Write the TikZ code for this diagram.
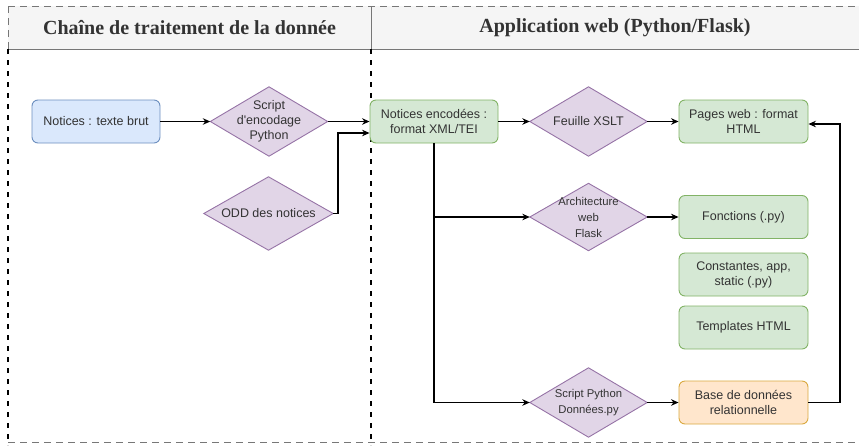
\documentclass[tikz,border=0pt]{standalone}
\usepackage{fontspec}
\setmainfont{Liberation Sans}
\newfontfamily\titlefont{Liberation Serif}
\usetikzlibrary{arrows.meta,calc}
\pgfdeclarelayer{background}
\pgfsetlayers{background,main}
\definecolor{txt}{HTML}{333333}
\definecolor{bluef}{HTML}{DAE8FC}\definecolor{blued}{HTML}{6C8EBF}
\definecolor{greenf}{HTML}{D5E8D4}\definecolor{greend}{HTML}{82B366}
\definecolor{purpf}{HTML}{E1D5E7}\definecolor{purpd}{HTML}{9673A6}
\definecolor{orf}{HTML}{FFE6CC}\definecolor{ord}{HTML}{D9A93F}
\definecolor{hdrf}{HTML}{F5F5F5}\definecolor{hdrd}{HTML}{777777}
\tikzset{
  box/.style={draw, line width=0.9pt, rounded corners=6pt, minimum width=128pt, minimum height=43pt,
    inner sep=2pt, align=center, text=txt, font=\fontsize{12.5}{15}\selectfont},
  bluebox/.style={box, fill=bluef, draw=blued},
  greenbox/.style={box, fill=greenf, draw=greend},
  orbox/.style={box, fill=orf, draw=ord},
  dia/.style={minimum width=117pt, minimum height=69pt, inner sep=0pt, align=center, text=txt,
    font=\fontsize{12.5}{15}\selectfont},
  diasmall/.style={dia, font=\fontsize{11.3}{16}\selectfont},
  diashape/.style={fill=purpf, draw=purpd, line width=0.9pt, line join=miter},
  conn/.style={line width=1.2pt, -{Stealth[length=7.5pt,width=6.5pt]}},
  lane/.style={line width=1.8pt, dash pattern=on 5pt off 6pt},
  frame/.style={draw=hdrd, line width=0.8pt, dash pattern=on 6.5pt off 5.5pt},
  title/.style={font=\titlefont\bfseries\fontsize{20}{23}\selectfont, text=txt}
}
\begin{document}
\begin{tikzpicture}[x=1pt,y=-1pt]
\useasboundingbox (0,0) rectangle (859,445);
% header
\fill[hdrf] (8,6) rectangle (859,49);
\draw[frame] (8,6) -- (859,6);
\draw[frame] (8,6) -- (8,49);
\draw[draw=hdrd, line width=0.9pt] (8,49) -- (859,49);
\draw[draw=hdrd, line width=0.9pt] (371,6) -- (371,49);
\node[title] (t1) at (189.5,28) {Chaîne de traitement de la donnée};
\node[title] (t2) at (615,28) {Application web (Python/Flask)};
% lanes
\draw[lane] (8,49) -- (8,445);
\draw[lane] (371,49) -- (371,445);
\draw[frame] (8,442) -- (859,442);
% nodes
\node[bluebox] (tb) at (96,121.5) {Notices : texte brut};
\node[dia] (s1) at (269,121.5) {Script\\d\textquotesingle encodage\\Python};
\node[dia, minimum width=129pt, minimum height=73pt] (odd) at (268.5,213.5) {ODD des notices};
\node[greenbox] (ne) at (434,121.5) {Notices encodées :\\format XML/TEI};
\node[dia] (xslt) at (588.5,121.5) {Feuille XSLT};
\node[greenbox, minimum width=129pt] (pw) at (743.5,121.5) {Pages web : format\\HTML};
\node[diasmall, minimum height=67pt] (arch) at (588.5,217) {Architecture\\web\\Flask};
\node[greenbox, minimum width=129pt] (fct) at (743.5,217) {Fonctions (.py)};
\node[greenbox, minimum width=129pt] (cst) at (743.5,274.5) {Constantes, app,\\static (.py)};
\node[greenbox, minimum width=129pt] (tpl) at (743.5,327.5) {Templates HTML};
\node[diasmall] (sp) at (588.5,402.5) {Script Python\\Données.py};
\node[orbox, minimum width=129pt] (bdd) at (743.5,402.5) {Base de données\\relationnelle};
\begin{pgfonlayer}{background}
\foreach \n in {s1,odd,xslt,arch,sp}{
  \draw[diashape] (\n.north) -- (\n.east) -- (\n.south) -- (\n.west) -- cycle;
}
\end{pgfonlayer}
% connectors
\coordinate (j1) at (338,133);
\coordinate (j2) at (840,124);
\draw[conn] (tb.east) -- (s1.west);
\draw[conn] (s1.east) -- (s1.east -| ne.west);
\draw[conn] (odd.east) -| (j1) -- (j1 -| ne.west);
\draw[conn] (ne.east) -- (xslt.west);
\draw[conn] (xslt.east) -- (pw.west);
\draw[conn] (ne.south) |- (sp.west);
\draw[conn] (ne.south |- arch.west) -- (arch.west);
\draw[conn] (arch.east) -- (arch.east -| fct.west);
\draw[conn] (sp.east) -- (bdd.west);
\draw[conn] (bdd.east) -| (j2) -- (j2 -| pw.east);
\end{tikzpicture}
\end{document}
